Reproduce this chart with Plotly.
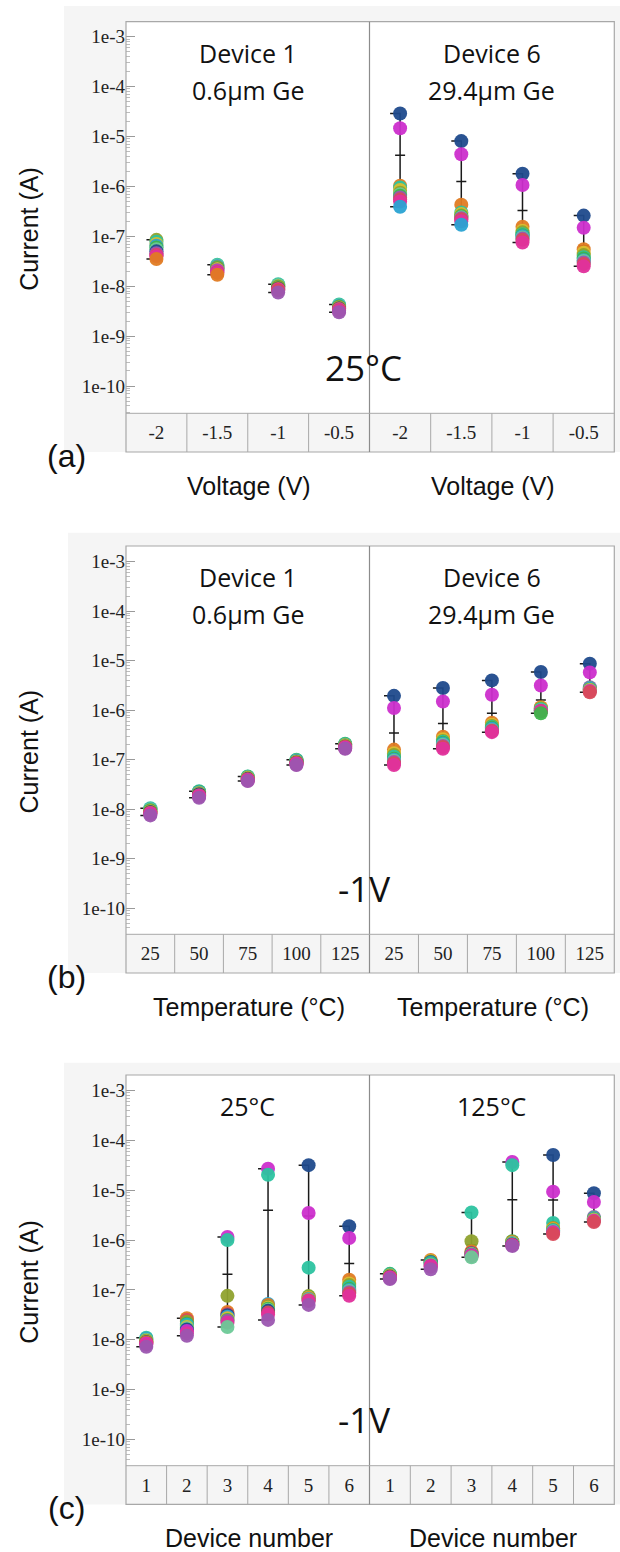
import plotly.graph_objects as go

W, H = 620, 1552

# ---------------- data ----------------
SERIES = ["navy", "magenta", "orange", "teal", "lightblue", "green",
          "olive", "purple", "red", "pink", "yellow", "mint"]
COLORS = ["#1F4A8C", "#CC2ECC", "#E07B22", "#2CC3A0", "#2AA3D3", "#3DB54A",
          "#8FA22E", "#9B56B0", "#D84A5A", "#E0309C", "#D9BE2E", "#6DC997"]

A_CATS = ["-2", "-1.5", "-1", "-0.5"]
B_CATS = ["25", "50", "75", "100", "125"]
C_CATS = ["1", "2", "3", "4", "5", "6"]

# rows follow SERIES order, columns follow the category list
A_DEV1 = [
    [5.0e-8, 2.2e-8, 9.0e-9, 3.6e-9],
    [4.2e-8, 2.0e-8, 8.5e-9, 3.4e-9],
    [3.5e-8, 1.7e-8, 8.8e-9, 3.5e-9],
    [7.8e-8, 2.7e-8, 1.1e-8, 4.3e-9],
    [6.5e-8, 2.5e-8, 1.0e-8, 4.0e-9],
    [6.0e-8, 2.3e-8, 9.8e-9, 3.9e-9],
    [8.5e-8, 2.4e-8, 9.5e-9, 3.8e-9],
    [4.6e-8, 2.1e-8, 7.5e-9, 3.0e-9],
    [4.2e-8, 1.9e-8, 8.2e-9, 3.3e-9],
    [4.0e-8, 1.85e-8, 8.5e-9, 3.2e-9],
    [7.0e-8, 2.2e-8, 1.0e-8, 3.7e-9],
    [5.5e-8, 2.6e-8, 1.05e-8, 4.1e-9],
]
A_DEV6 = [
    [2.9e-5, 8.1e-6, 1.8e-6, 2.6e-7],
    [1.46e-5, 4.4e-6, 1.07e-6, 1.48e-7],
    [1.03e-6, 4.3e-7, 1.55e-7, 5.5e-8],
    [9.5e-7, 3.0e-7, 1.1e-7, 3.8e-8],
    [3.9e-7, 1.7e-7, 1.0e-7, 3.3e-8],
    [6.5e-7, 2.5e-7, 1.05e-7, 3.6e-8],
    [7.5e-7, 2.6e-7, 1.2e-7, 4.2e-8],
    [6.0e-7, 2.3e-7, 9.0e-8, 3.0e-8],
    [5.5e-7, 2.2e-7, 8.5e-8, 2.8e-8],
    [5.0e-7, 2.0e-7, 7.5e-8, 2.5e-8],
    [8.5e-7, 2.8e-7, 1.3e-7, 4.7e-8],
    [7.0e-7, 2.4e-7, 9.5e-8, 3.2e-8],
]
B_DEV1 = [
    [8.8e-9, 2.0e-8, 4.1e-8, 8.8e-8, 1.85e-7],
    [8.2e-9, 1.85e-8, 3.9e-8, 8.3e-8, 1.75e-7],
    [8.5e-9, 1.9e-8, 4.0e-8, 8.6e-8, 1.8e-7],
    [1.05e-8, 2.3e-8, 4.6e-8, 1.0e-7, 2.1e-7],
    [1.0e-8, 2.2e-8, 4.4e-8, 9.5e-8, 2.0e-7],
    [9.5e-9, 2.25e-8, 4.5e-8, 9.8e-8, 2.05e-7],
    [9.2e-9, 2.1e-8, 4.3e-8, 9.2e-8, 1.95e-7],
    [7.5e-9, 1.7e-8, 3.7e-8, 7.8e-8, 1.66e-7],
    [8.3e-9, 1.9e-8, 4.0e-8, 8.5e-8, 1.8e-7],
    [8.0e-9, 1.8e-8, 3.8e-8, 8.0e-8, 1.7e-7],
    [9.0e-9, 2.05e-8, 4.2e-8, 9.0e-8, 1.9e-7],
    [1.0e-8, 2.15e-8, 4.4e-8, 9.6e-8, 2.0e-7],
]
B_DEV6 = [
    [1.95e-6, 2.8e-6, 4.0e-6, 5.9e-6, 8.7e-6],
    [1.11e-6, 1.5e-6, 2.05e-6, 3.15e-6, 5.8e-6],
    [1.6e-7, 2.9e-7, 5.6e-7, 1.15e-6, 2.7e-6],
    [1.15e-7, 2.3e-7, 4.6e-7, 1.05e-6, 2.8e-6],
    [1.0e-7, 2.1e-7, 4.2e-7, 1.0e-6, 2.7e-6],
    [1.05e-7, 2.2e-7, 4.4e-7, 8.7e-7, 2.6e-6],
    [1.25e-7, 2.4e-7, 4.8e-7, 1.08e-6, 2.6e-6],
    [9.0e-8, 1.9e-7, 3.9e-7, 9.8e-7, 2.9e-6],
    [8.5e-8, 1.8e-7, 3.8e-7, 9.6e-7, 2.3e-6],
    [7.8e-8, 1.66e-7, 3.6e-7, 9.5e-7, 2.45e-6],
    [1.35e-7, 2.6e-7, 5.1e-7, 1.1e-6, 2.55e-6],
    [9.5e-8, 2.0e-7, 4.0e-7, 1.0e-6, 2.5e-6],
]
C_25C = [
    [9.0e-9, 1.6e-8, 3.1e-8, 3.8e-8, 3.2e-5, 1.9e-6],
    [8.3e-9, 1.5e-8, 1.15e-6, 2.7e-5, 3.5e-6, 1.1e-6],
    [8.8e-9, 2.7e-8, 3.6e-8, 5.0e-8, 6.8e-8, 1.6e-7],
    [1.1e-8, 1.9e-8, 1.0e-6, 2.05e-5, 2.8e-7, 1.15e-7],
    [1.05e-8, 2.0e-8, 2.9e-8, 5.2e-8, 6.6e-8, 1.0e-7],
    [1.0e-8, 2.1e-8, 2.5e-8, 4.2e-8, 7.2e-8, 1.05e-7],
    [9.5e-9, 2.3e-8, 7.6e-8, 4.6e-8, 7.5e-8, 1.25e-7],
    [7.2e-9, 1.2e-8, 2.4e-8, 2.5e-8, 5.0e-8, 9.0e-8],
    [8.5e-9, 2.5e-8, 3.3e-8, 3.5e-8, 6.2e-8, 8.5e-8],
    [8.0e-9, 1.35e-8, 2.2e-8, 3.2e-8, 6.0e-8, 7.6e-8],
    [9.2e-9, 1.8e-8, 2.7e-8, 4.4e-8, 7.0e-8, 1.35e-7],
    [1.0e-8, 1.7e-8, 1.8e-8, 4.0e-8, 6.4e-8, 9.5e-8],
]
C_125C = [
    [1.85e-7, 3.6e-7, 5.4e-7, 8.2e-7, 5.1e-5, 8.7e-6],
    [1.75e-7, 3.0e-7, 4.9e-7, 3.7e-5, 9.4e-6, 5.8e-6],
    [1.8e-7, 4.0e-7, 5.9e-7, 9.0e-7, 1.7e-6, 2.7e-6],
    [2.1e-7, 3.3e-7, 3.6e-6, 3.2e-5, 2.2e-6, 2.8e-6],
    [2.0e-7, 3.5e-7, 5.3e-7, 8.6e-7, 1.55e-6, 2.7e-6],
    [2.05e-7, 3.4e-7, 5.1e-7, 9.5e-7, 1.6e-6, 2.6e-6],
    [1.95e-7, 3.7e-7, 9.5e-7, 9.3e-7, 1.75e-6, 2.6e-6],
    [1.66e-7, 2.6e-7, 5.0e-7, 7.6e-7, 1.45e-6, 2.9e-6],
    [1.8e-7, 3.1e-7, 5.6e-7, 8.0e-7, 1.33e-6, 2.3e-6],
    [1.7e-7, 2.9e-7, 4.8e-7, 7.9e-7, 1.4e-6, 2.45e-6],
    [1.9e-7, 3.8e-7, 5.2e-7, 8.8e-7, 1.65e-6, 2.55e-6],
    [2.0e-7, 3.2e-7, 4.5e-7, 8.4e-7, 1.5e-6, 2.5e-6],
]

Y_TICK_VALS = [1e-3, 1e-4, 1e-5, 1e-6, 1e-7, 1e-8, 1e-9, 1e-10]
Y_TICK_TEXT = ["1e-3", "1e-4", "1e-5", "1e-6", "1e-7", "1e-8", "1e-9", "1e-10"]

PANELS = [
    dict(left=A_DEV1, right=A_DEV6, cats=A_CATS,
         heads=(("Device 1", "0.6\u03bcm Ge"), ("Device 6", "29.4\u03bcm Ge")),
         cond="25\u00b0C", xtitle="Voltage (V)", tag="(a)"),
    dict(left=B_DEV1, right=B_DEV6, cats=B_CATS,
         heads=(("Device 1", "0.6\u03bcm Ge"), ("Device 6", "29.4\u03bcm Ge")),
         cond="-1V", xtitle="Temperature (\u00b0C)", tag="(b)"),
    dict(left=C_25C, right=C_125C, cats=C_CATS,
         heads=(("25\u00b0C",), ("125\u00b0C",)),
         cond="-1V", xtitle="Device number", tag="(c)"),
]

# ---------------- layout geometry (px) ----------------
FX0, DIVX, FX1 = 126.0, 369.5, 614.3
TOP = [21.7, 546.0, 1075.0]
BOT = [413.3, 934.3, 1465.7]
ROW_H = 38.7
BG_X0 = [64, 68, 64]
BG_TOP = [6.0, 532.7, 1062.7]
Y_RANGE = [(-10.547, -2.699), (-10.527, -2.683), (-10.53, -2.685)]

def px(x):
    return x / W

def py(y):
    return 1 - y / H

SERIF = "Liberation Serif"
SANS = "Liberation Sans"
LABEL = "Open Sans"
FRAME = "#a8a8a8"

fig = go.Figure()
layout = dict(width=W, height=H, margin=dict(l=0, r=0, t=0, b=0),
              paper_bgcolor="white", plot_bgcolor="rgba(0,0,0,0)",
              showlegend=False)
shapes, annotations = [], []

minor_vals = [k * 10.0 ** e for e in range(-11, -2) for k in range(2, 10)]

for p, panel in enumerate(PANELS):
    cats = panel["cats"]
    n = len(cats)
    row_bot = BOT[p] + ROW_H
    for s, (data, x0, x1) in enumerate(((panel["left"], FX0, DIVX),
                                        (panel["right"], DIVX, FX1))):
        k = 2 * p + s + 1
        xa, ya = f"x{k}", f"y{k}"
        unit_px = (x1 - x0) / n
        d_side = 10.0 / unit_px
        d_mid = 5.0 / unit_px
        for i in range(n):
            col = [row[i] for row in data]
            vmax, vmin = max(col), min(col)
            vmean = sum(col) / len(col)
            fig.add_trace(go.Scatter(
                x=[i - d_side, i, i, i - d_side, None, i - d_mid, i + d_mid],
                y=[vmax, vmax, vmin, vmin, None, vmean, vmean],
                mode="lines", line=dict(color="#1a1a1a", width=1.5),
                xaxis=xa, yaxis=ya, hoverinfo="skip"))
            order = sorted(range(len(col)), key=lambda j: -col[j])
            fig.add_trace(go.Scatter(
                x=[i] * len(order), y=[col[j] for j in order],
                mode="markers",
                marker=dict(size=14, color=[COLORS[j] for j in order],
                            opacity=0.95, line=dict(width=0)),
                text=[SERIES[j] for j in order],
                xaxis=xa, yaxis=ya))
        xkey = "xaxis" if k == 1 else f"xaxis{k}"
        ykey = "yaxis" if k == 1 else f"yaxis{k}"
        layout[xkey] = dict(domain=[px(x0), px(x1)], anchor=ya,
                            range=[-0.5, n - 0.5], tickvals=list(range(n)),
                            ticktext=cats, ticks="", showgrid=False,
                            zeroline=False, showline=False,
                            ticklabelstandoff=6,
                            tickfont=dict(family=SERIF, size=19, color="#222"))
        yd = dict(domain=[py(BOT[p]), py(TOP[p])], anchor=xa, type="log",
                  range=list(Y_RANGE[p]), showgrid=False, zeroline=False,
                  showline=False)
        if s == 0:
            yd.update(tickvals=Y_TICK_VALS, ticktext=Y_TICK_TEXT,
                      ticks="inside", ticklen=9, tickcolor="#9a9a9a",
                      tickwidth=1,
                      tickfont=dict(family=SERIF, size=19, color="#222"),
                      minor=dict(tickvals=minor_vals, ticks="inside",
                                 ticklen=4, tickcolor="#bdbdbd", tickwidth=1))
        else:
            yd.update(matches=f"y{k-1}", showticklabels=False, ticks="")
        layout[ykey] = yd
        # category cell dividers in the tick-label row
        for i in range(1, n):
            shapes.append(dict(type="line", xref=xa, yref="paper",
                               x0=i - 0.5, x1=i - 0.5,
                               y0=py(BOT[p]), y1=py(row_bot),
                               line=dict(color=FRAME, width=1)))
        # headings
        xc = (x0 + x1) / 2
        heads = panel["heads"][s]
        for li, txt in enumerate(heads):
            annotations.append(dict(text=txt, x=px(xc), y=py(TOP[p] + 31 + 37 * li),
                                    xref="paper", yref="paper", showarrow=False,
                                    xanchor="center", yanchor="middle",
                                    font=dict(family=LABEL, size=25, color="#111")))
        annotations.append(dict(text=panel["xtitle"], x=px(xc + 1), y=py(row_bot + 34),
                                xref="paper", yref="paper", showarrow=False,
                                xanchor="center", yanchor="middle",
                                font=dict(family=SANS, size=25, color="#111")))
    # background, white plot area, frame
    shapes.append(dict(type="rect", xref="paper", yref="paper", layer="below",
                       x0=px(BG_X0[p]), x1=1, y0=py(row_bot), y1=py(BG_TOP[p]),
                       fillcolor="#f5f5f5", line=dict(width=0)))
    shapes.append(dict(type="rect", xref="paper", yref="paper", layer="below",
                       x0=px(FX0), x1=px(FX1), y0=py(BOT[p]), y1=py(TOP[p]),
                       fillcolor="white", line=dict(width=0)))
    shapes.append(dict(type="rect", xref="paper", yref="paper",
                       x0=px(FX0), x1=px(FX1), y0=py(row_bot), y1=py(TOP[p]),
                       line=dict(color=FRAME, width=1.2)))
    shapes.append(dict(type="line", xref="paper", yref="paper",
                       x0=px(DIVX), x1=px(DIVX), y0=py(row_bot), y1=py(TOP[p]),
                       line=dict(color="#8c8c8c", width=1.2)))
    shapes.append(dict(type="line", xref="paper", yref="paper",
                       x0=px(FX0), x1=px(FX1), y0=py(BOT[p]), y1=py(BOT[p]),
                       line=dict(color=FRAME, width=1)))
    # condition label, y title, panel tag
    annotations.append(dict(text=panel["cond"], x=px(364), y=py(BOT[p] - 46),
                            xref="paper", yref="paper", showarrow=False,
                            xanchor="center", yanchor="middle",
                            font=dict(family=LABEL, size=35, color="#111")))
    annotations.append(dict(text="Current (A)", x=px(29), y=py((TOP[p] + row_bot) / 2 - 8),
                            xref="paper", yref="paper", showarrow=False,
                            textangle=-90, xanchor="center", yanchor="middle",
                            font=dict(family=SANS, size=25, color="#111")))
    annotations.append(dict(text=panel["tag"], x=px(66), y=py(row_bot + 4),
                            xref="paper", yref="paper", showarrow=False,
                            xanchor="center", yanchor="middle",
                            font=dict(family=SANS, size=32, color="#111")))

layout["shapes"] = shapes
layout["annotations"] = annotations
fig.update_layout(**layout)
fig.write_html("out.html",
               config={"displayModeBar": False},
               post_script="document.body.style.margin='0px';"
                           "document.body.style.overflow='hidden';")
